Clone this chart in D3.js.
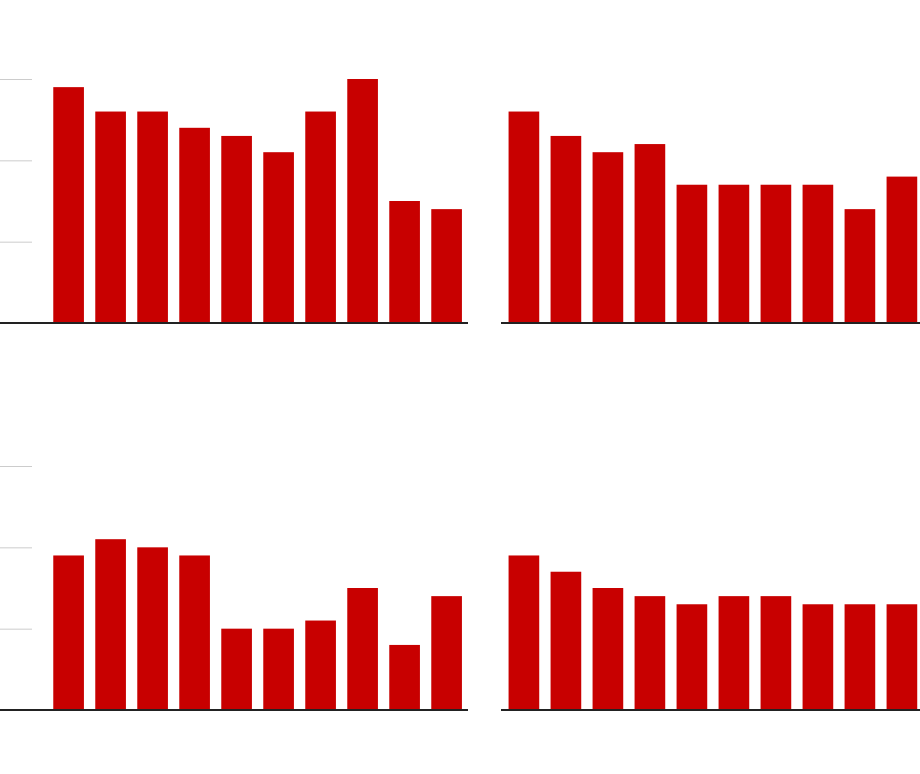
<!DOCTYPE html>
<html>
<head>
<meta charset="utf-8">
<script src="https://cdn.jsdelivr.net/npm/d3@7"></script>
<style>
  html, body { margin: 0; padding: 0; background: #fff; }
  svg { display: block; }
</style>
</head>
<body>
<svg id="chart" width="920" height="774"></svg>
<script>
const categories = ["1","2","3","4","5","6","7","8","9","10"];
const topLeft     = [29, 26, 26, 24, 23, 21, 26, 30, 15, 14];
const topRight    = [26, 23, 21, 22, 17, 17, 17, 17, 14, 18];
const bottomLeft  = [19, 21, 20, 19, 10, 10, 11, 15,  8, 14];
const bottomRight = [19, 17, 15, 14, 13, 14, 14, 13, 13, 13];
const gridTicks   = [10, 20, 30];

const svg = d3.select("#chart");
const barColor = "#c80000";

const panels = [
  { values: topLeft,     x0: 47.6,  base: 323, axis: true,  lineX: [0, 468] },
  { values: topRight,    x0: 502.9, base: 323, axis: false, lineX: [501, 922] },
  { values: bottomLeft,  x0: 47.6,  base: 710, axis: true,  lineX: [0, 468] },
  { values: bottomRight, x0: 502.9, base: 710, axis: false, lineX: [501, 922] }
];

panels.forEach(p => {
  const g = svg.append("g");
  const x = d3.scaleBand().domain(categories)
    .range([p.x0, p.x0 + 420]).paddingInner(0.27).paddingOuter(0.135);
  const y = d3.scaleLinear().domain([0, 30]).range([p.base, p.base - 244]);

  if (p.axis) {
    const ax = g.append("g")
      .call(d3.axisRight(y).tickValues(gridTicks).tickSize(32).tickFormat(""));
    ax.select(".domain").remove();
    ax.selectAll(".tick line").attr("stroke", "#cccccc").attr("stroke-width", 1);
  }

  g.selectAll("rect.bar").data(p.values).join("rect")
    .attr("class", "bar")
    .attr("x", (d, i) => x(categories[i]))
    .attr("width", x.bandwidth())
    .attr("y", d => y(d))
    .attr("height", d => y(0) - y(d))
    .attr("fill", barColor);

  g.append("line")
    .attr("x1", p.lineX[0]).attr("x2", p.lineX[1])
    .attr("y1", p.base).attr("y2", p.base)
    .attr("stroke", "#222222").attr("stroke-width", 2);
});
</script>
</body>
</html>
